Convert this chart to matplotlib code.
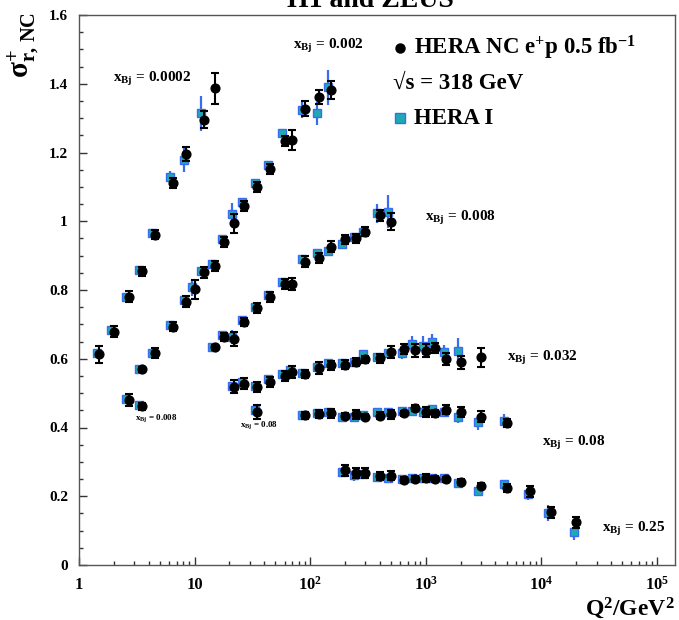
import matplotlib
matplotlib.use("Agg")
import matplotlib.pyplot as plt
import numpy as np
from matplotlib.ticker import FixedLocator, FixedFormatter, NullFormatter

plt.rcParams['font.family'] = ['Liberation Serif', 'DejaVu Serif']
plt.rcParams['font.weight'] = 'bold'
plt.rcParams['mathtext.fontset'] = 'custom'
plt.rcParams['mathtext.rm'] = 'Liberation Serif:bold'
plt.rcParams['mathtext.bf'] = 'Liberation Serif:bold'
plt.rcParams['mathtext.it'] = 'Liberation Serif:bold:italic'
plt.rcParams['mathtext.default'] = 'bf'

# ---------------- data ----------------
# x_Bj = 0.0002
A_q2 = [1.5, 2, 2.7, 3.5, 4.5, 6.5, 8.5, 12, 15]
A_new = [0.613, 0.678, 0.781, 0.854, 0.961, 1.112, 1.195, 1.295, 1.387]
A_new_err = [0.024, 0.016, 0.017, 0.014, 0.014, 0.015, 0.02, 0.025, 0.045]
A_q2_h1 = [1.5, 2, 2.7, 3.5, 4.5, 6.5, 8.5, 12]
A_old = [0.617, 0.685, 0.781, 0.859, 0.967, 1.130, 1.178, 1.314]
A_old_err = [0.01, 0.01, 0.008, 0.008, 0.008, 0.015, 0.035, 0.05]

# x_Bj = 0.002
B_q2 = [3.5, 4.5, 6.5, 8.5, 10, 12, 15, 18, 22, 27, 35, 45, 60, 70, 90, 120, 150]
B_new = [0.569, 0.616, 0.693, 0.766, 0.802, 0.851, 0.870, 0.940, 0.994, 1.045,
         1.100, 1.152, 1.233, 1.236, 1.327, 1.362, 1.382]
B_new_err = [0.008, 0.015, 0.013, 0.016, 0.027, 0.015, 0.014, 0.015, 0.027, 0.014,
             0.014, 0.014, 0.014, 0.03, 0.022, 0.021, 0.027]
B_q2_h1 = [3.5, 4.5, 6.5, 8.5, 10, 12, 15, 18, 22, 27, 35, 45, 60, 90, 120, 150]
B_old = [0.569, 0.618, 0.698, 0.771, 0.808, 0.855, 0.876, 0.947, 1.020, 1.055,
         1.110, 1.164, 1.256, 1.324, 1.314, 1.390]
B_old_err = [0.005, 0.008, 0.008, 0.01, 0.025, 0.01, 0.008, 0.01, 0.034, 0.01,
             0.01, 0.01, 0.01, 0.024, 0.034, 0.051]

# x_Bj = 0.008
C_q2 = [15, 18, 22, 27, 35, 45, 60, 70, 90, 120, 150, 200, 250, 300, 400, 500]
C_new = [0.633, 0.664, 0.657, 0.707, 0.747, 0.779, 0.817, 0.818, 0.882, 0.893,
         0.926, 0.947, 0.950, 0.970, 1.018, 0.999]
C_new_err = [0.008, 0.012, 0.02, 0.012, 0.014, 0.014, 0.014, 0.018, 0.016, 0.015,
             0.016, 0.013, 0.013, 0.013, 0.016, 0.025]
C_q2_h1 = [15, 18, 22, 27, 35, 45, 60, 90, 120, 150, 200, 250, 300, 400, 500]
C_old = [0.635, 0.668, 0.664, 0.712, 0.752, 0.785, 0.824, 0.889, 0.909, 0.914,
         0.933, 0.955, 0.970, 1.023, 1.028]
C_old_err = [0.005, 0.008, 0.02, 0.008, 0.008, 0.008, 0.01, 0.012, 0.01, 0.015,
             0.015, 0.01, 0.017, 0.027, 0.048]

# x_Bj = 0.032
D_q2 = [22, 27, 35, 45, 60, 70, 90, 120, 150, 200, 250, 300, 400, 500, 650, 800,
        1000, 1200, 1500, 2000, 3000]
D_new = [0.519, 0.528, 0.517, 0.533, 0.550, 0.561, 0.556, 0.573, 0.581, 0.583,
         0.591, 0.598, 0.601, 0.619, 0.628, 0.625, 0.624, 0.631, 0.600, 0.590, 0.604]
D_new_err = [0.02, 0.017, 0.014, 0.014, 0.014, 0.017, 0.012, 0.017, 0.013, 0.012,
             0.012, 0.01, 0.012, 0.017, 0.015, 0.019, 0.019, 0.015, 0.017, 0.019, 0.027]
D_q2_h1 = [22, 27, 35, 45, 60, 70, 90, 120, 150, 200, 250, 300, 400, 500, 650, 800,
           1000, 1200, 1500, 2000]
D_old = [0.522, 0.532, 0.520, 0.540, 0.555, 0.567, 0.560, 0.577, 0.587, 0.587,
         0.591, 0.613, 0.606, 0.616, 0.618, 0.642, 0.638, 0.650, 0.620, 0.624]
D_old_err = [0.008, 0.008, 0.006, 0.008, 0.008, 0.015, 0.008, 0.01, 0.006, 0.006,
             0.006, 0.012, 0.006, 0.01, 0.019, 0.024, 0.028, 0.022, 0.02, 0.036]

# x_Bj = 0.08
E_q2 = [35, 90, 120, 150, 200, 250, 300, 400, 500, 650, 800, 1000, 1200, 1500,
        2000, 3000, 5000]
E_new = [0.446, 0.436, 0.439, 0.441, 0.433, 0.438, 0.432, 0.434, 0.438, 0.441,
         0.457, 0.446, 0.441, 0.452, 0.446, 0.432, 0.414]
E_new_err = [0.02, 0.01, 0.012, 0.013, 0.008, 0.012, 0.008, 0.01, 0.013, 0.008,
             0.008, 0.015, 0.01, 0.013, 0.015, 0.015, 0.012]
E_old = [0.450, 0.436, 0.441, 0.446, 0.432, 0.432, 0.436, 0.444, 0.444, 0.448,
         0.447, 0.446, 0.454, 0.446, 0.432, 0.415, 0.418]
E_old_err = [0.012, 0.006, 0.006, 0.008, 0.008, 0.01, 0.006, 0.008, 0.012, 0.01,
             0.01, 0.015, 0.01, 0.01, 0.02, 0.022, 0.02]

# x_Bj = 0.25
F_q2 = [200, 250, 300, 400, 500, 650, 800, 1000, 1200, 1500, 2000, 3000, 5000,
        8000, 12000, 20000]
F_new = [0.276, 0.267, 0.267, 0.260, 0.260, 0.248, 0.250, 0.253, 0.250, 0.249,
         0.242, 0.231, 0.224, 0.214, 0.153, 0.124]
F_new_err = [0.016, 0.015, 0.015, 0.012, 0.013, 0.008, 0.008, 0.012, 0.008, 0.008,
             0.008, 0.008, 0.012, 0.015, 0.015, 0.017]
F_old = [0.271, 0.262, 0.264, 0.257, 0.252, 0.250, 0.253, 0.252, 0.254, 0.252,
         0.238, 0.215, 0.235, 0.208, 0.152, 0.095]
F_old_err = [0.01, 0.017, 0.012, 0.008, 0.012, 0.01, 0.008, 0.01, 0.008, 0.008,
             0.008, 0.008, 0.012, 0.019, 0.024, 0.022]

# isolated low-Q2 points
G_q2 = [2.7, 3.5]
G_new = [0.480, 0.462]
G_new_err = [0.017, 0.01]
G_old = [0.483, 0.465]
G_old_err = [0.006, 0.005]

series = [
    (A_q2, A_new, A_new_err, A_q2_h1, A_old, A_old_err),
    (B_q2, B_new, B_new_err, B_q2_h1, B_old, B_old_err),
    (C_q2, C_new, C_new_err, C_q2_h1, C_old, C_old_err),
    (D_q2, D_new, D_new_err, D_q2_h1, D_old, D_old_err),
    (E_q2, E_new, E_new_err, E_q2, E_old, E_old_err),
    (F_q2, F_new, F_new_err, F_q2, F_old, F_old_err),
    (G_q2, G_new, G_new_err, G_q2, G_old, G_old_err),
]

bin_labels = ['0.0002', '0.002', '0.008', '0.032', '0.08', '0.25']
bin_label_pos = [(1.97, 1.414), (71, 1.51), (984, 1.009), (5040, 0.602),
                 (10120, 0.355), (33440, 0.105)]
small_labels = ['0.008', '0.08']
small_label_pos = [(3.05, 0.428), (24.7, 0.407)]

x_ticks = [1, 10, 100, 1e3, 1e4, 1e5]
x_ticklabels = ['1', '10', r'$10^{2}$', r'$10^{3}$', r'$10^{4}$', r'$10^{5}$']
y_ticks = [0, 0.2, 0.4, 0.6, 0.8, 1.0, 1.2, 1.4, 1.6]
y_ticklabels = ['0', '0.2', '0.4', '0.6', '0.8', '1', '1.2', '1.4', '1.6']

# ---------------- figure ----------------
W, H = 679, 620
fig = plt.figure(figsize=(W / 100, H / 100), dpi=100)
L, R, T, B = 79, 675, 15, 565
ax = fig.add_axes([L / W, 1 - B / H, (R - L) / W, (B - T) / H])
ax.set_xscale('log')
ax.set_xlim(1, 10 ** 5.156)
ax.set_ylim(0, 1.6)

CYAN = '#1fa9b3'
BLUE = '#3a6cf0'
shift = 0.95

for q2, new, nerr, q2h, old, oerr in series:
    ax.errorbar(np.array(q2h) * shift, old, yerr=oerr, fmt='s', ms=6,
                mfc=CYAN, mec=BLUE, mew=1.0, ecolor=BLUE, elinewidth=1.6,
                capsize=0, zorder=2)
    ax.errorbar(q2, new, yerr=nerr, fmt='o', ms=6.3, color='black',
                ecolor='black', elinewidth=1.5, capsize=3, capthick=1.5,
                zorder=3)

for lab, (x, y) in zip(bin_labels, bin_label_pos):
    ax.text(x, y, r'$x_{Bj}$ = ' + lab, fontsize=11, fontweight='bold',
            ha='left', va='center')
for lab, (x, y) in zip(small_labels, small_label_pos):
    ax.text(x, y, r'$x_{Bj}$ = ' + lab, fontsize=6.5, fontweight='bold',
            ha='left', va='center')

# legend (manual)
lx = (400 - L) / (R - L)
tx = (414 - L) / (R - L)
ys = [(B - 48) / (B - T), (B - 83) / (B - T), (B - 118) / (B - T)]
ax.plot([lx], [ys[0]], 'o', ms=6.5, color='black', transform=ax.transAxes,
        clip_on=False)
ax.text(tx, ys[0], r'HERA NC e$^{+}$p 0.5 fb$^{-1}$', fontsize=16.5,
        fontweight='bold', transform=ax.transAxes, ha='left', va='center')
ax.text((393 - L) / (R - L), ys[1], '\u221as = 318 GeV', fontsize=16.5,
        fontweight='bold', transform=ax.transAxes, ha='left', va='center')
ax.plot([lx], [ys[2]], 's', ms=7, mfc=CYAN, mec=BLUE, mew=1.0,
        transform=ax.transAxes, clip_on=False)
ax.text(tx, ys[2], 'HERA I', fontsize=16.5, fontweight='bold',
        transform=ax.transAxes, ha='left', va='center')

# axes styling
ax.xaxis.set_major_locator(FixedLocator(x_ticks))
ax.xaxis.set_major_formatter(FixedFormatter(x_ticklabels))
minor_x = [m * 10 ** d for d in range(0, 5) for m in range(2, 10)]
ax.xaxis.set_minor_locator(FixedLocator(minor_x))
ax.xaxis.set_minor_formatter(NullFormatter())
ax.yaxis.set_major_locator(FixedLocator(y_ticks))
ax.yaxis.set_major_formatter(FixedFormatter(y_ticklabels))
ax.yaxis.set_minor_locator(FixedLocator(np.arange(0, 1.601, 0.05)))
ax.tick_params(which='both', direction='in', top=False, right=False,
               width=1, color='#333333')
ax.tick_params(which='major', length=6)
ax.tick_params(which='minor', length=3)
ax.tick_params(axis='y', labelsize=11, pad=8)
ax.tick_params(axis='x', labelsize=12, pad=17.5)
for t in ax.get_xticklabels():
    t.set_va('baseline')
    t.set_fontweight('bold')
for t in ax.get_yticklabels():
    t.set_fontweight('bold')
for s in ax.spines.values():
    s.set_linewidth(1.0)
    s.set_color('#555555')

fig.text(R / W, 1 - 615 / H, r'Q$^{2}$/GeV$^{2}$', fontsize=17,
         fontweight='bold', ha='right', va='baseline')
fig.text(24 / W, 1 - 12 / H, r'$\sigma^{+}_{r,\,NC}$', fontsize=21,
         fontweight='bold', rotation=90, ha='center', va='top')
fig.text(370 / W, 1 - 7 / H, 'H1 and ZEUS', fontsize=20, fontweight='bold',
         ha='center', va='baseline')

fig.savefig('out.png', dpi=100)
